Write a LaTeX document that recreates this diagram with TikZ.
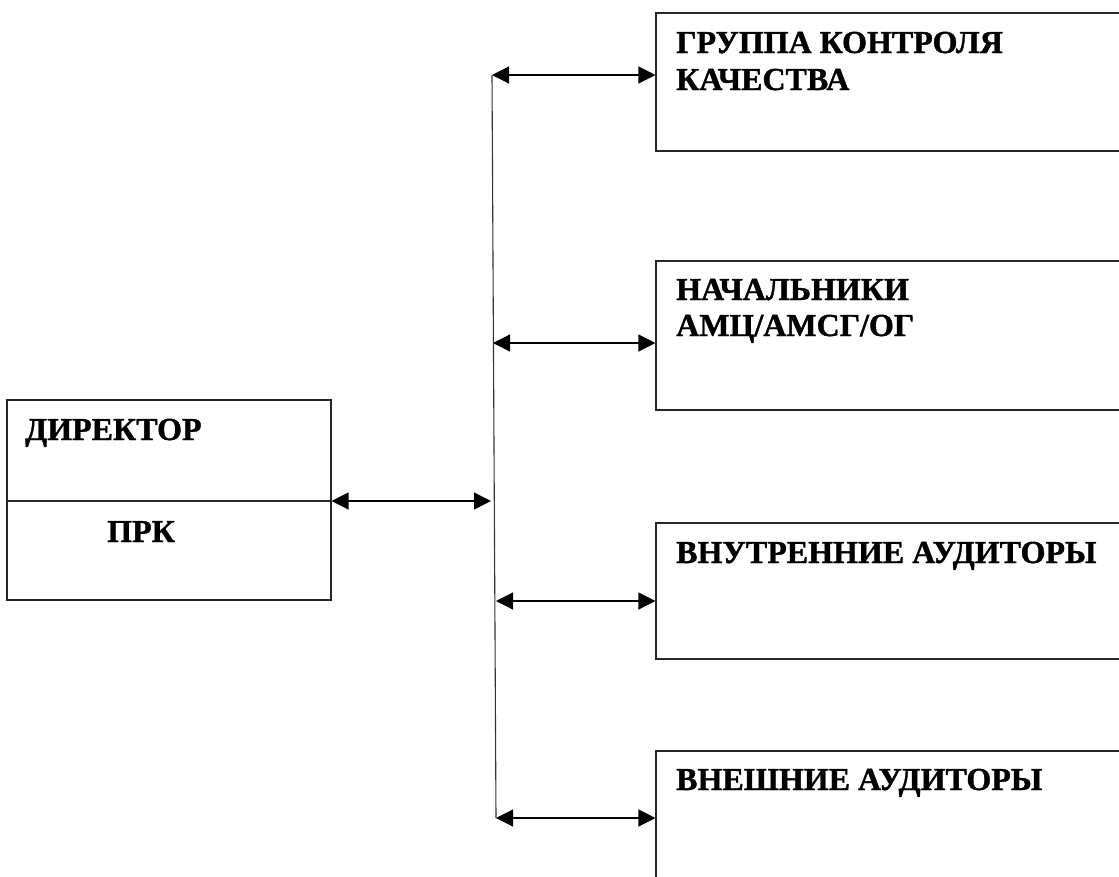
\documentclass[tikz,border=0pt]{standalone}
\usepackage{fontspec}
\setmainfont{Liberation Serif}[BoldFont={Liberation Serif Bold}]
\newfontfamily\lblfont{Liberation Serif Bold}[FakeBold=1.2]
\usetikzlibrary{arrows.meta}
\begin{document}
\begin{tikzpicture}[x=1pt,y=-1pt,
  box/.style={draw=black!85, line width=1.1pt, rectangle, inner sep=0pt},
  lbl/.style={anchor=base west, inner sep=0pt, font=\lblfont\fontsize{32}{37}\selectfont},
  link/.style={line width=1.2pt, {Triangle[length=17pt,width=17pt]}-{Triangle[length=17pt,width=17pt]}},
  trunk/.style={line width=1.1pt, draw=black!80}]
\useasboundingbox (0,0) rectangle (1119,876);
\clip (0,0) rectangle (1119,876);
% director box
\node[box, minimum width=324pt, minimum height=200pt] (dir) at (169,500) {};
\draw[box] (dir.west |- 0,501) coordinate (dl) -- (dir.east |- 0,501) coordinate (dr);
\node[lbl] (tdir) at (25,440) {ДИРЕКТОР};
\node[lbl] (tprk) at (107,542) {ПРК};
% right boxes
\node[box, minimum width=484pt, minimum height=138pt] (b1) at (898,82) {};
\node[box, minimum width=484pt, minimum height=149pt] (b2) at (898,335.5) {};
\node[box, minimum width=484pt, minimum height=136pt] (b3) at (898,591) {};
\node[box, minimum width=484pt, minimum height=149pt] (b4) at (898,825.5) {};
\node[lbl] (t1a) at (676,53) {ГРУППА КОНТРОЛЯ};
\node[lbl] (t1b) at (676,90) {КАЧЕСТВА};
\node[lbl] (t2a) at (676,300) {НАЧАЛЬНИКИ};
\node[lbl] (t2b) at (676,336) {АМЦ/АМСГ/ОГ};
\node[lbl] (t3) at (676,563) {ВНУТРЕННИЕ АУДИТОРЫ};
\node[lbl] (t4) at (676,790) {ВНЕШНИЕ АУДИТОРЫ};
% trunk
\coordinate (c1) at (492,75);
\coordinate (c2) at (493,343);
\coordinate (c0) at (491,501);
\coordinate (c3) at (496,601);
\coordinate (c4) at (496,818);
\draw[trunk] (c1) -- (c4);
% connectors
\draw[link] (dr) -- (c0);
\draw[link] (c1) -- (c1 -| b1.west);
\draw[link] (c2) -- (c2 -| b2.west);
\draw[link] (c3) -- (c3 -| b3.west);
\draw[link] (c4) -- (c4 -| b4.west);
\end{tikzpicture}
\end{document}
